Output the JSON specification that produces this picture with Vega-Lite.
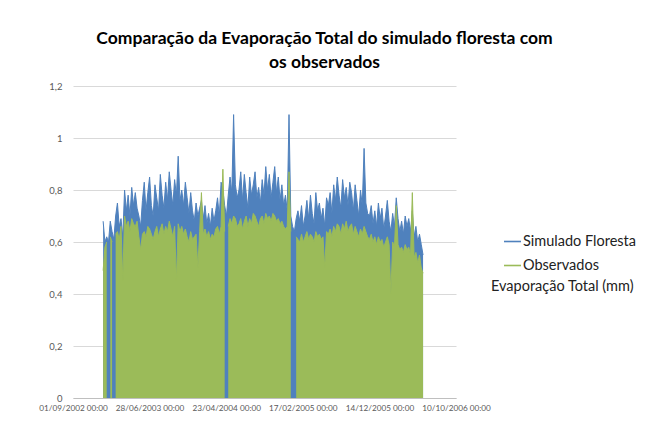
{
  "$schema": "https://vega.github.io/schema/vega-lite/v6.json",
  "width": 383,
  "height": 312,
  "autosize": {"type": "none"},
  "padding": {"left": 73, "top": 86, "right": 190, "bottom": 30},
  "background": "white",
  "config": {
    "view": {"stroke": null},
    "font": "Lato",
    "axisX": {"domainColor": "#BFBFBF", "domainWidth": 1, "ticks": false, "grid": false, "labelColor": "#595959", "labelFontSize": 8.2, "labelFont": "Lato", "labelPadding": 6, "labelFlush": false, "labelOverlap": false},
    "axisY": {"domain": false, "ticks": false, "grid": true, "gridColor": "#D9D9D9", "gridWidth": 1, "labelColor": "#595959", "labelFontSize": 9.5, "labelFont": "Lato", "labelPadding": 11}
  },
  "title": {
    "text": ["Comparação da Evaporação Total do simulado floresta com", "os observados"],
    "font": "Lato",
    "fontSize": 17.5,
    "fontWeight": "bold",
    "color": "#000000",
    "anchor": "middle",
    "dx": 60,
    "lineHeight": 24,
    "offset": 10
  },
  "data": {"values": [
    {"d":"2002-12-28","s":0.68,"o":0.49},
    {"d":"2003-01-04","s":0.60,"o":0.58},
    {"d":"2003-01-11","s":0.62,"o":0.60},
    {"d":"2003-01-18","s":0.60,"o":null},
    {"d":"2003-01-25","s":0.68,"o":0.62},
    {"d":"2003-02-01","s":0.64,"o":0.60},
    {"d":"2003-02-08","s":0.61,"o":null},
    {"d":"2003-02-15","s":0.70,"o":0.63},
    {"d":"2003-02-22","s":0.75,"o":0.64},
    {"d":"2003-03-01","s":0.66,"o":0.61},
    {"d":"2003-03-08","s":0.69,"o":0.66},
    {"d":"2003-03-15","s":0.62,"o":0.45},
    {"d":"2003-03-22","s":0.80,"o":0.70},
    {"d":"2003-03-29","s":0.72,"o":0.66},
    {"d":"2003-04-05","s":0.78,"o":0.68},
    {"d":"2003-04-12","s":0.70,"o":0.64},
    {"d":"2003-04-19","s":0.81,"o":0.69},
    {"d":"2003-04-26","s":0.74,"o":0.67},
    {"d":"2003-05-03","s":0.79,"o":0.66},
    {"d":"2003-05-10","s":0.73,"o":0.68},
    {"d":"2003-05-17","s":0.70,"o":0.62},
    {"d":"2003-05-24","s":0.66,"o":0.57},
    {"d":"2003-05-31","s":0.76,"o":0.63},
    {"d":"2003-06-07","s":0.83,"o":0.64},
    {"d":"2003-06-14","s":0.72,"o":0.62},
    {"d":"2003-06-21","s":0.79,"o":0.66},
    {"d":"2003-06-28","s":0.85,"o":0.65},
    {"d":"2003-07-05","s":0.74,"o":0.63},
    {"d":"2003-07-12","s":0.70,"o":0.61},
    {"d":"2003-07-19","s":0.82,"o":0.64},
    {"d":"2003-07-26","s":0.77,"o":0.66},
    {"d":"2003-08-02","s":0.72,"o":0.62},
    {"d":"2003-08-09","s":0.86,"o":0.65},
    {"d":"2003-08-16","s":0.78,"o":0.67},
    {"d":"2003-08-23","s":0.73,"o":0.63},
    {"d":"2003-08-30","s":0.83,"o":0.66},
    {"d":"2003-09-06","s":0.76,"o":0.64},
    {"d":"2003-09-13","s":0.87,"o":0.68},
    {"d":"2003-09-20","s":0.80,"o":0.65},
    {"d":"2003-09-27","s":0.74,"o":0.62},
    {"d":"2003-10-04","s":0.84,"o":0.66},
    {"d":"2003-10-11","s":0.78,"o":0.45},
    {"d":"2003-10-18","s":0.93,"o":0.67},
    {"d":"2003-10-25","s":0.76,"o":0.64},
    {"d":"2003-11-01","s":0.80,"o":0.66},
    {"d":"2003-11-08","s":0.74,"o":0.63},
    {"d":"2003-11-15","s":0.83,"o":0.65},
    {"d":"2003-11-22","s":0.77,"o":0.62},
    {"d":"2003-11-29","s":0.71,"o":0.60},
    {"d":"2003-12-06","s":0.79,"o":0.64},
    {"d":"2003-12-13","s":0.72,"o":0.61},
    {"d":"2003-12-20","s":0.68,"o":0.62},
    {"d":"2003-12-27","s":0.75,"o":0.63},
    {"d":"2004-01-03","s":0.70,"o":0.50},
    {"d":"2004-01-10","s":0.73,"o":0.64},
    {"d":"2004-01-17","s":0.76,"o":0.79},
    {"d":"2004-01-24","s":0.69,"o":0.63},
    {"d":"2004-01-31","s":0.74,"o":0.65},
    {"d":"2004-02-07","s":0.67,"o":0.62},
    {"d":"2004-02-14","s":0.71,"o":0.64},
    {"d":"2004-02-21","s":0.66,"o":0.61},
    {"d":"2004-02-28","s":0.73,"o":0.63},
    {"d":"2004-03-06","s":0.68,"o":0.62},
    {"d":"2004-03-13","s":0.72,"o":0.65},
    {"d":"2004-03-20","s":0.77,"o":0.66},
    {"d":"2004-03-27","s":0.70,"o":0.63},
    {"d":"2004-04-03","s":0.83,"o":0.66},
    {"d":"2004-04-10","s":0.80,"o":0.88},
    {"d":"2004-04-17","s":0.74,"o":0.64},
    {"d":"2004-04-24","s":0.70,"o":null},
    {"d":"2004-05-01","s":0.78,"o":0.66},
    {"d":"2004-05-08","s":0.85,"o":0.69},
    {"d":"2004-05-15","s":0.79,"o":0.67},
    {"d":"2004-05-22","s":1.09,"o":0.70},
    {"d":"2004-05-29","s":0.82,"o":0.69},
    {"d":"2004-06-05","s":0.77,"o":0.66},
    {"d":"2004-06-12","s":0.80,"o":0.67},
    {"d":"2004-06-19","s":0.87,"o":0.69},
    {"d":"2004-06-26","s":0.76,"o":0.65},
    {"d":"2004-07-03","s":0.86,"o":0.68},
    {"d":"2004-07-10","s":0.79,"o":0.70},
    {"d":"2004-07-17","s":0.73,"o":0.66},
    {"d":"2004-07-24","s":0.85,"o":0.69},
    {"d":"2004-07-31","s":0.78,"o":0.67},
    {"d":"2004-08-07","s":0.82,"o":0.71},
    {"d":"2004-08-14","s":0.87,"o":0.70},
    {"d":"2004-08-21","s":0.77,"o":0.68},
    {"d":"2004-08-28","s":0.81,"o":0.66},
    {"d":"2004-09-04","s":0.75,"o":0.69},
    {"d":"2004-09-11","s":0.84,"o":0.70},
    {"d":"2004-09-18","s":0.78,"o":0.67},
    {"d":"2004-09-25","s":0.89,"o":0.71},
    {"d":"2004-10-02","s":0.80,"o":0.69},
    {"d":"2004-10-09","s":0.86,"o":0.70},
    {"d":"2004-10-16","s":0.77,"o":0.68},
    {"d":"2004-10-23","s":0.83,"o":0.71},
    {"d":"2004-10-30","s":0.89,"o":0.70},
    {"d":"2004-11-06","s":0.79,"o":0.68},
    {"d":"2004-11-13","s":0.85,"o":0.69},
    {"d":"2004-11-20","s":0.76,"o":0.67},
    {"d":"2004-11-27","s":0.82,"o":0.68},
    {"d":"2004-12-04","s":0.74,"o":0.66},
    {"d":"2004-12-11","s":0.78,"o":0.65},
    {"d":"2004-12-18","s":0.72,"o":0.66},
    {"d":"2004-12-25","s":1.09,"o":0.87},
    {"d":"2005-01-01","s":0.70,"o":0.64},
    {"d":"2005-01-08","s":0.66,"o":null},
    {"d":"2005-01-15","s":0.64,"o":null},
    {"d":"2005-01-22","s":0.69,"o":0.62},
    {"d":"2005-01-29","s":0.72,"o":0.61},
    {"d":"2005-02-05","s":0.68,"o":0.60},
    {"d":"2005-02-12","s":0.74,"o":0.63},
    {"d":"2005-02-19","s":0.66,"o":0.60},
    {"d":"2005-02-26","s":0.70,"o":0.62},
    {"d":"2005-03-05","s":0.76,"o":0.64},
    {"d":"2005-03-12","s":0.69,"o":0.61},
    {"d":"2005-03-19","s":0.78,"o":0.63},
    {"d":"2005-03-26","s":0.71,"o":0.62},
    {"d":"2005-04-02","s":0.67,"o":0.60},
    {"d":"2005-04-09","s":0.79,"o":0.64},
    {"d":"2005-04-16","s":0.72,"o":0.62},
    {"d":"2005-04-23","s":0.75,"o":0.63},
    {"d":"2005-04-30","s":0.69,"o":0.61},
    {"d":"2005-05-07","s":0.73,"o":0.62},
    {"d":"2005-05-14","s":0.66,"o":0.50},
    {"d":"2005-05-21","s":0.77,"o":0.64},
    {"d":"2005-05-28","s":0.74,"o":0.63},
    {"d":"2005-06-04","s":0.79,"o":0.65},
    {"d":"2005-06-11","s":0.71,"o":0.62},
    {"d":"2005-06-18","s":0.82,"o":0.66},
    {"d":"2005-06-25","s":0.76,"o":0.64},
    {"d":"2005-07-02","s":0.85,"o":0.67},
    {"d":"2005-07-09","s":0.78,"o":0.66},
    {"d":"2005-07-16","s":0.73,"o":0.63},
    {"d":"2005-07-23","s":0.84,"o":0.67},
    {"d":"2005-07-30","s":0.77,"o":0.65},
    {"d":"2005-08-06","s":0.81,"o":0.68},
    {"d":"2005-08-13","s":0.74,"o":0.64},
    {"d":"2005-08-20","s":0.83,"o":0.66},
    {"d":"2005-08-27","s":0.79,"o":0.67},
    {"d":"2005-09-03","s":0.72,"o":0.63},
    {"d":"2005-09-10","s":0.82,"o":0.66},
    {"d":"2005-09-17","s":0.76,"o":0.64},
    {"d":"2005-09-24","s":0.70,"o":0.62},
    {"d":"2005-10-01","s":0.80,"o":0.65},
    {"d":"2005-10-08","s":0.74,"o":0.63},
    {"d":"2005-10-15","s":0.96,"o":0.66},
    {"d":"2005-10-22","s":0.75,"o":0.64},
    {"d":"2005-10-29","s":0.71,"o":0.62},
    {"d":"2005-11-05","s":0.70,"o":0.61},
    {"d":"2005-11-12","s":0.74,"o":0.63},
    {"d":"2005-11-19","s":0.67,"o":0.60},
    {"d":"2005-11-26","s":0.72,"o":0.62},
    {"d":"2005-12-03","s":0.66,"o":0.59},
    {"d":"2005-12-10","s":0.75,"o":0.62},
    {"d":"2005-12-17","s":0.69,"o":0.60},
    {"d":"2005-12-24","s":0.73,"o":0.61},
    {"d":"2005-12-31","s":0.65,"o":0.58},
    {"d":"2006-01-07","s":0.70,"o":0.60},
    {"d":"2006-01-14","s":0.76,"o":0.62},
    {"d":"2006-01-21","s":0.68,"o":0.59},
    {"d":"2006-01-28","s":0.64,"o":0.40},
    {"d":"2006-02-04","s":0.71,"o":0.60},
    {"d":"2006-02-11","s":0.66,"o":0.58},
    {"d":"2006-02-18","s":0.77,"o":0.74},
    {"d":"2006-02-25","s":0.69,"o":0.59},
    {"d":"2006-03-04","s":0.64,"o":0.57},
    {"d":"2006-03-11","s":0.68,"o":0.58},
    {"d":"2006-03-18","s":0.63,"o":0.56},
    {"d":"2006-03-25","s":0.70,"o":0.59},
    {"d":"2006-04-01","s":0.66,"o":0.57},
    {"d":"2006-04-08","s":0.69,"o":0.58},
    {"d":"2006-04-15","s":0.64,"o":0.55},
    {"d":"2006-04-22","s":0.72,"o":0.79},
    {"d":"2006-04-29","s":0.62,"o":0.54},
    {"d":"2006-05-06","s":0.66,"o":0.56},
    {"d":"2006-05-13","s":0.60,"o":0.52},
    {"d":"2006-05-20","s":0.63,"o":0.55},
    {"d":"2006-05-27","s":0.59,"o":0.50},
    {"d":"2006-06-03","s":0.55,"o":0.48}
  ]},
  "encoding": {
    "x": {
      "field": "d",
      "type": "temporal",
      "title": null,
      "scale": {"type": "utc", "domain": [{"year": 2002, "month": 9, "date": 1, "utc": true}, {"year": 2006, "month": 10, "date": 10, "utc": true}], "nice": false},
      "axis": {
        "format": "%d/%m/%Y %H:%M",
        "values": [
          {"year": 2002, "month": 9, "date": 1, "utc": true},
          {"year": 2003, "month": 6, "date": 28, "utc": true},
          {"year": 2004, "month": 4, "date": 23, "utc": true},
          {"year": 2005, "month": 2, "date": 17, "utc": true},
          {"year": 2005, "month": 12, "date": 14, "utc": true},
          {"year": 2006, "month": 10, "date": 10, "utc": true}
        ]
      }
    }
  },
  "layer": [
    {
      "mark": {"type": "area", "interpolate": "linear", "color": "#4F81BD", "invalid": "break-paths-filter-domains"},
      "encoding": {
        "y": {
          "field": "s",
          "type": "quantitative",
          "stack": null,
          "title": null,
          "scale": {"domain": [0, 1.2], "nice": false},
          "axis": {"values": [0, 0.2, 0.4, 0.6, 0.8, 1, 1.2], "labelExpr": "replace(format(datum.value, '~g'), '.', ',')"}
        }
      }
    },
    {
      "mark": {"type": "line", "interpolate": "linear", "strokeWidth": 1, "invalid": "break-paths-filter-domains"},
      "encoding": {
        "y": {"field": "s", "type": "quantitative", "stack": null, "title": null},
        "color": {
          "datum": "Simulado Floresta",
          "type": "nominal",
          "scale": {"domain": ["Simulado Floresta", "Observados"], "range": ["#4F81BD", "#9BBB59"]},
          "legend": {
            "orient": "none",
            "legendX": 418,
            "legendY": 146,
            "title": "Evaporação Total (mm)",
            "titleOrient": "bottom",
            "titleFont": "Lato",
            "titleFontSize": 14.5,
            "titleFontWeight": "normal",
            "titleColor": "#222222",
            "titlePadding": 8,
            "labelFont": "Lato",
            "labelFontSize": 14.5,
            "labelColor": "#222222",
            "labelOffset": 1,
            "symbolType": "stroke",
            "symbolSize": 289,
            "symbolStrokeWidth": 1.6,
            "symbolOffset": 12,
            "rowPadding": 8
          }
        }
      }
    },
    {
      "mark": {"type": "area", "interpolate": "linear", "color": "#9BBB59", "invalid": "break-paths-filter-domains"},
      "encoding": {
        "y": {"field": "o", "type": "quantitative", "stack": null, "title": null}
      }
    },
    {
      "mark": {"type": "line", "interpolate": "linear", "strokeWidth": 1, "invalid": "break-paths-filter-domains"},
      "encoding": {
        "y": {"field": "o", "type": "quantitative", "stack": null, "title": null},
        "color": {"datum": "Observados", "type": "nominal"}
      }
    }
  ]
}
